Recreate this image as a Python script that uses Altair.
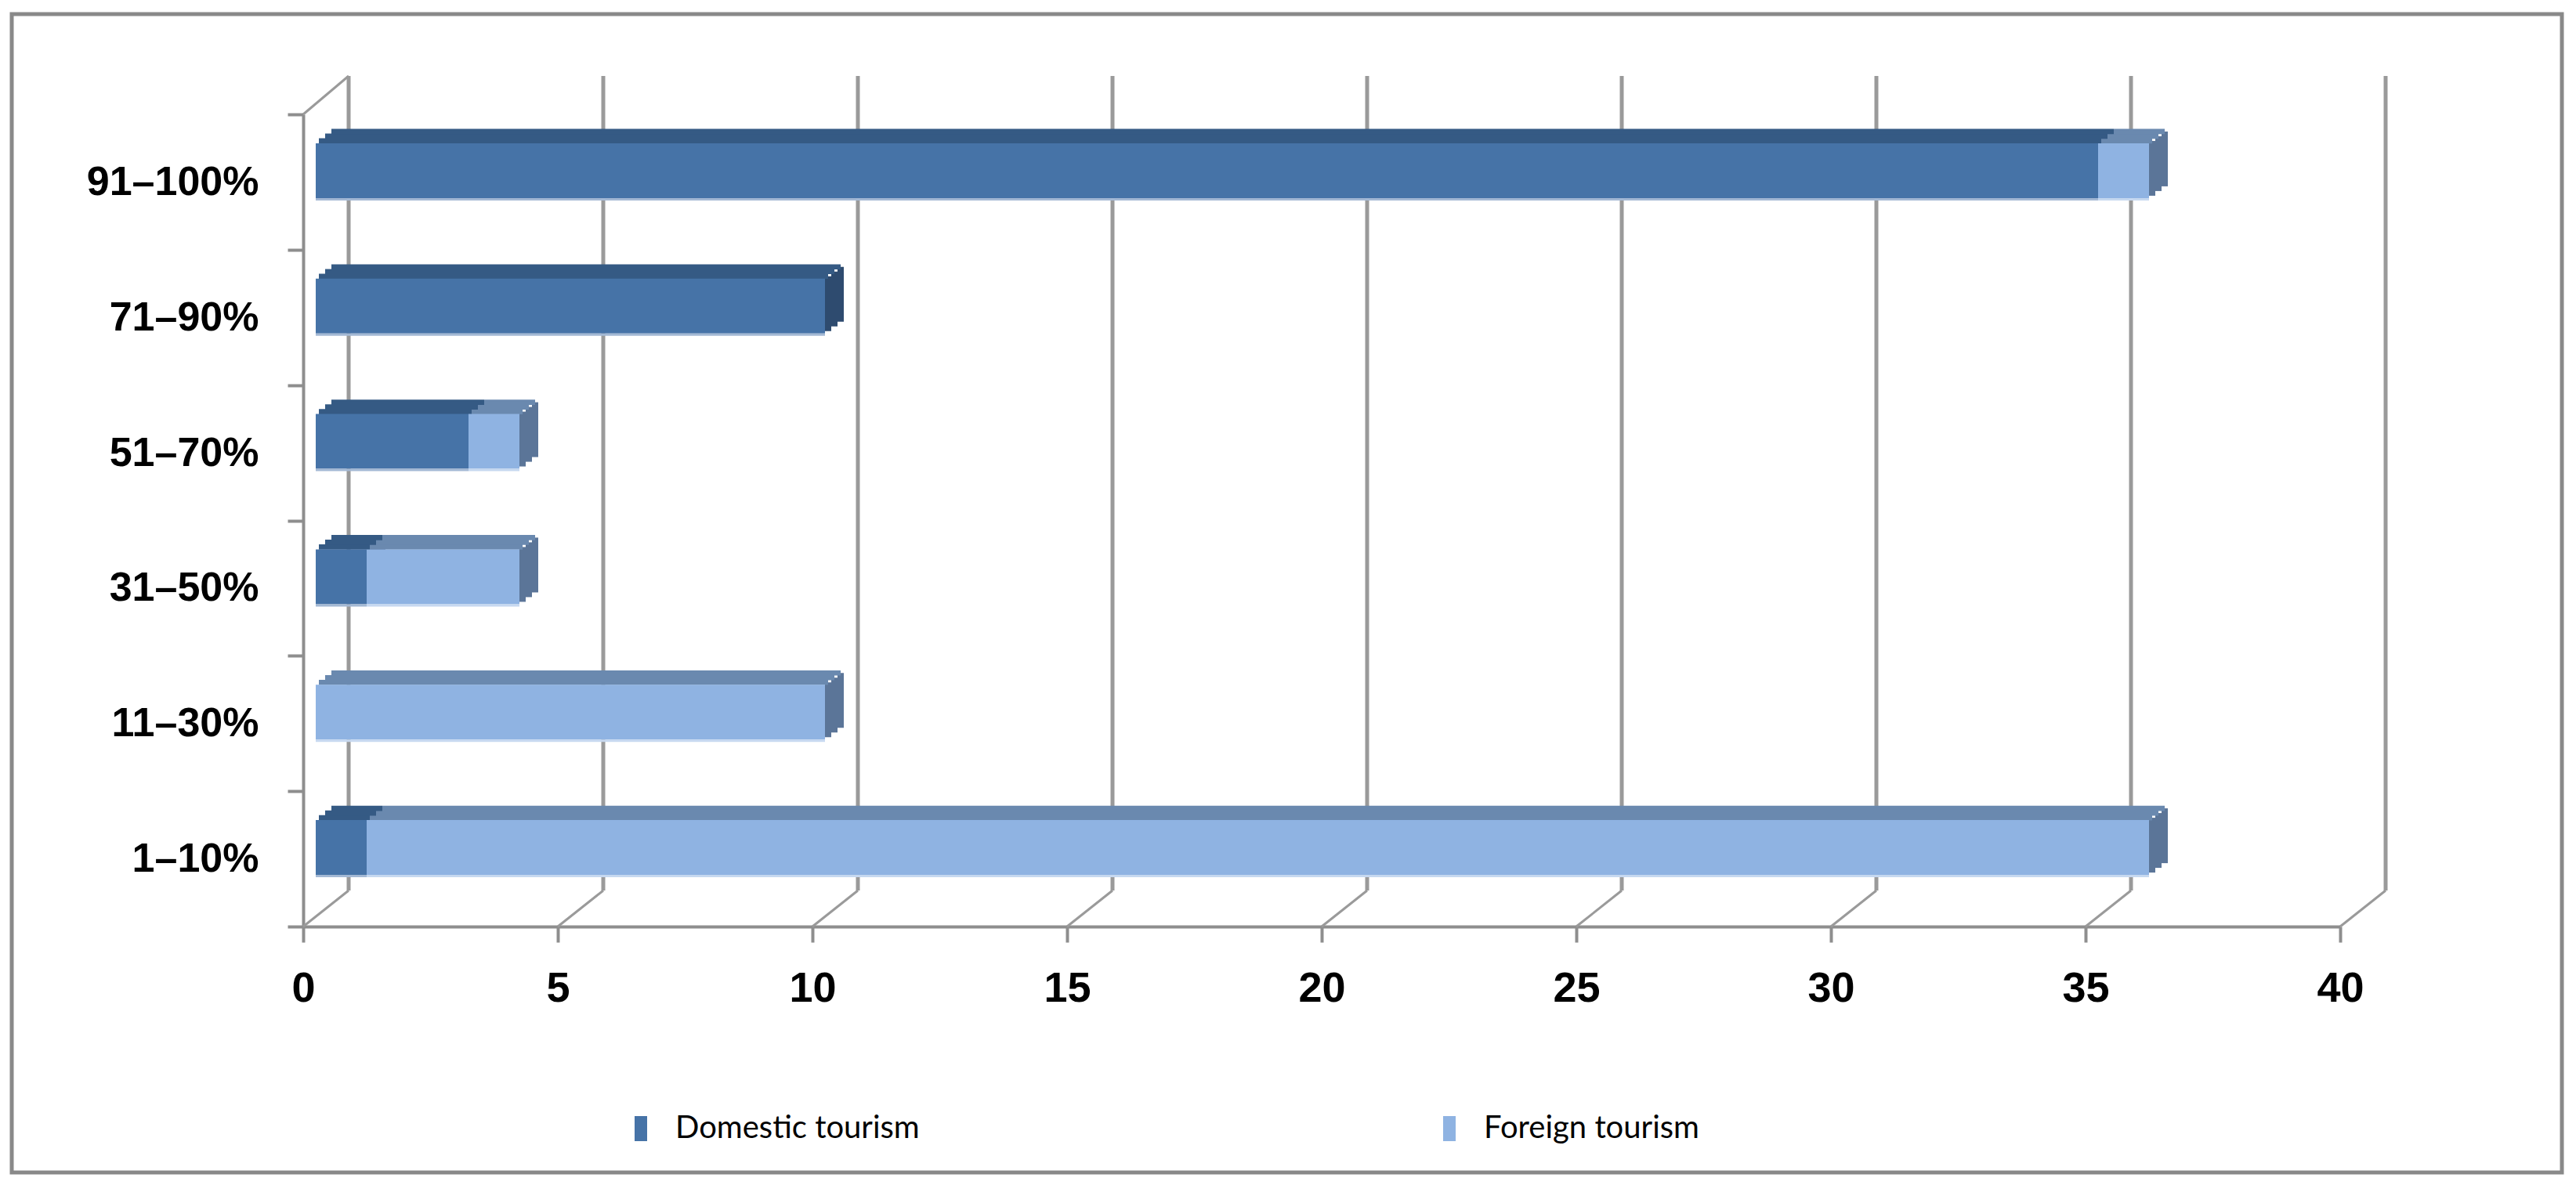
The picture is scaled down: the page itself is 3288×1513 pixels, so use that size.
import altair as alt
import pandas as pd

# ---- data ----
categories = ["91–100%", "71–90%", "51–70%", "31–50%", "11–30%", "1–10%"]
series = ["Domestic tourism", "Foreign tourism"]
domestic = [35, 10, 3, 1, 0, 1]
foreign = [1, 0, 1, 3, 10, 35]
x_ticks = [0, 5, 10, 15, 20, 25, 30, 35, 40]

# ---- styles ----
front_colors = ["#4673A7", "#8FB3E2"]
top_colors = ["#355A84", "#6A89AF"]
side_colors = ["#2E4B6F", "#5B7598"]
edge_colors = ["#A3B8D4", "#C6D8F0"]
GRID = "#8E8E8E"

rows = []
for i, c in enumerate(categories):
    for j, vals in enumerate([domestic, foreign]):
        rows.append({
            "category": c, "series": series[j], "order": j, "value": vals[i],
            "top": top_colors[j], "side": side_colors[j], "edge": edge_colors[j],
        })
df = pd.DataFrame(rows)
ticks_df = pd.DataFrame({"tick": x_ticks})
one = pd.DataFrame({"k": [0]})

# ---- geometry (pixels) ----
W, H = 2600, 1037
BAR_H = 70
BAR_DY = -14.5
BAR_DX = 16
DEPTH_X, DEPTH_Y = 24, 18
WALL_DX, WALL_DY = 58, 46
NSL = 3

x_scale = alt.Scale(domain=[0, 40], nice=False, zero=True)
y_scale = alt.Scale(domain=categories, paddingInner=0, paddingOuter=0)

x_axis = alt.Axis(values=x_ticks, title=None, grid=False, domainColor=GRID, domainWidth=4,
                  tickColor=GRID, tickWidth=4, tickSize=20, labelFont="Liberation Sans",
                  labelFontWeight="bold", labelFontSize=54, labelColor="black",
                  labelPadding=32, labelFlush=False, labelOverlap=False)
y_axis = alt.Axis(title=None, grid=False, domainColor=GRID, domainWidth=4, tickColor=GRID,
                  tickWidth=4, tickSize=20, tickBand="extent", labelFont="Liberation Sans",
                  labelFontWeight="bold", labelFontSize=52, labelColor="black",
                  labelPadding=37, labelLimit=600)

Y = alt.Y("category:N", sort=categories, scale=y_scale, axis=y_axis)

base = alt.Chart(df).transform_stack(
    stack="value", groupby=["category"],
    sort=[alt.SortField("order", order="ascending")], as_=["x0", "x1"])

# frame around the whole figure
frame = alt.Chart(one).mark_rect(filled=False, stroke="#898989", strokeWidth=5).encode(
    x=alt.value(-372), x2=alt.value(2883), y=alt.value(-128), y2=alt.value(1351))

# back wall gridlines
grid = alt.Chart(ticks_df).mark_rule(color="#9A9A9A", strokeWidth=5, xOffset=WALL_DX).encode(
    x=alt.X("tick:Q", scale=x_scale, axis=x_axis),
    y=alt.value(-WALL_DY - 3), y2=alt.value(H - WALL_DY))
# floor diagonals
diag = alt.Chart(ticks_df).mark_rule(color="#9A9A9A", strokeWidth=3, x2Offset=WALL_DX).encode(
    x=alt.X("tick:Q", scale=x_scale, axis=x_axis), x2=alt.X2("tick:Q"),
    y=alt.value(H), y2=alt.value(H - WALL_DY))
# top-left wall diagonal
topdiag = alt.Chart(one).mark_rule(color="#9A9A9A", strokeWidth=3).encode(
    x=alt.value(0), x2=alt.value(WALL_DX), y=alt.value(0), y2=alt.value(-WALL_DY - 3))

layers = [frame, grid, diag, topdiag]

# side faces at the end of each non-zero segment
for k in range(NSL):
    layers.append(
        base.transform_filter("datum.value > 0").mark_bar(
            height=BAR_H,
            yOffset=BAR_DY - DEPTH_Y * (2 * k + 1) / (2 * NSL),
            xOffset=BAR_DX + DEPTH_X * k / NSL,
            x2Offset=BAR_DX + DEPTH_X * (k + 1) / NSL,
        ).encode(
            x=alt.X("x1:Q", scale=x_scale, axis=x_axis), x2=alt.X2("x1:Q"), y=Y,
            fill=alt.Fill("side:N", scale=None))
    )

# top faces
for k in range(NSL):
    off = BAR_DX + DEPTH_X * (2 * k + 1) / (2 * NSL)
    layers.append(
        base.mark_bar(
            height=DEPTH_Y / NSL + 0.6,
            yOffset=BAR_DY - BAR_H / 2 - DEPTH_Y * (2 * k + 1) / (2 * NSL),
            xOffset=off, x2Offset=off,
        ).encode(
            x=alt.X("x0:Q", scale=x_scale, axis=x_axis), x2=alt.X2("x1:Q"), y=Y,
            fill=alt.Fill("top:N", scale=None))
    )

# front faces (carry the legend)
front = base.mark_bar(height=BAR_H, yOffset=BAR_DY, xOffset=BAR_DX, x2Offset=BAR_DX).encode(
    x=alt.X("x0:Q", scale=x_scale, axis=x_axis), x2=alt.X2("x1:Q"), y=Y,
    color=alt.Color("series:N", scale=alt.Scale(domain=series, range=front_colors),
                    legend=alt.Legend(title=None, orient="none", legendX=411, legendY=1275,
                                      direction="horizontal", columns=2, columnPadding=656,
                                      labelFont="Lato", labelFontSize=40,
                                      labelColor="black", labelLimit=1000, labelOffset=24,
                                      symbolType="M-0.5,-1H0.5V1H-0.5Z", symbolSize=1024,
                                      symbolStrokeWidth=0, symbolOpacity=1, padding=0)))
layers.append(front)

# light bottom edge of the front faces
edge = base.mark_bar(height=3, yOffset=BAR_DY + BAR_H / 2 + 1.5, xOffset=BAR_DX, x2Offset=BAR_DX).encode(
    x=alt.X("x0:Q", scale=x_scale, axis=x_axis), x2=alt.X2("x1:Q"), y=Y,
    fill=alt.Fill("edge:N", scale=None))
layers.append(edge)

chart = alt.layer(*layers).properties(
    width=W, height=H,
    autosize=alt.AutoSizeParams(type="none"),
    padding={"left": 379, "top": 138, "right": 293, "bottom": 322},
    background="white",
).configure_view(strokeWidth=0)

chart.save("out.html", embed_options={"renderer": "svg", "actions": False})
